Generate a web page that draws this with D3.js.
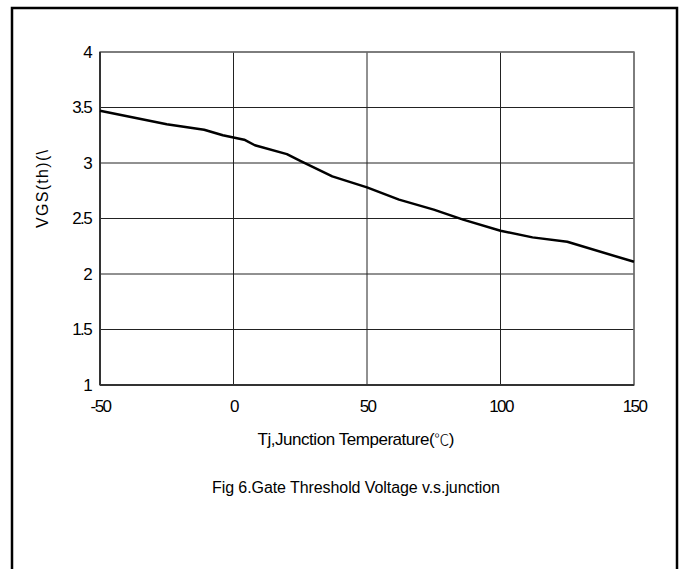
<!DOCTYPE html>
<html>
<head>
  <style>
    body { margin: 0; background: #fff; }
    svg text { font-family: "Liberation Sans", Arial, sans-serif; fill: #000; }
  </style>
  <title>Gate Threshold Voltage v.s. junction</title>
</head>
<body>
  <script src="https://cdn.jsdelivr.net/npm/d3@7"></script>
  <script>
    // data
    var temps = [-50, -25, -11, -4, 4, 8, 20, 25, 37, 50, 62, 75, 86, 100, 112, 125, 150];
    var vgs   = [3.47, 3.35, 3.30, 3.25, 3.21, 3.16, 3.08, 3.02, 2.88, 2.78, 2.67, 2.58, 2.49, 2.39, 2.33, 2.29, 2.11];
    var xTicks = [-50, 0, 50, 100, 150];
    var yTicks = [1, 1.5, 2, 2.5, 3, 3.5, 4];

    var W = 685, H = 569;
    var plot = {left: 100, top: 52, right: 634, bottom: 385};

    var svg = d3.select("body").append("svg")
      .attr("width", W)
      .attr("height", H);

    // outer frame
    svg.append("rect")
      .attr("x", 12).attr("y", 8)
      .attr("width", 665).attr("height", 580)
      .attr("fill", "none")
      .attr("stroke", "#000")
      .attr("stroke-width", 2.5);

    var x = d3.scaleLinear().domain([-50, 150]).range([plot.left, plot.right]);
    var y = d3.scaleLinear().domain([1, 4]).range([plot.bottom, plot.top]);

    // grid
    svg.append("g").selectAll("line").data(yTicks).enter().append("line")
      .attr("x1", plot.left).attr("x2", plot.right)
      .attr("y1", d => y(d)).attr("y2", d => y(d))
      .attr("stroke", "#222").attr("stroke-width", 1);

    svg.append("g").selectAll("line").data(xTicks).enter().append("line")
      .attr("y1", plot.top).attr("y2", plot.bottom)
      .attr("x1", d => x(d)).attr("x2", d => x(d))
      .attr("stroke", "#222").attr("stroke-width", 1);

    // plot border
    svg.append("rect")
      .attr("x", plot.left).attr("y", plot.top)
      .attr("width", plot.right - plot.left).attr("height", plot.bottom - plot.top)
      .attr("fill", "none").attr("stroke", "#777").attr("stroke-width", 1.5);
    svg.append("line")
      .attr("x1", plot.left).attr("x2", plot.left)
      .attr("y1", plot.top).attr("y2", plot.bottom)
      .attr("stroke", "#333").attr("stroke-width", 2);
    svg.append("line")
      .attr("x1", plot.left).attr("x2", plot.right)
      .attr("y1", plot.bottom).attr("y2", plot.bottom)
      .attr("stroke", "#333").attr("stroke-width", 2);

    // axes labels via d3 axis, then strip the domain/ticks
    var yAxis = d3.axisLeft(y).tickValues(yTicks).tickSize(0).tickPadding(9)
      .tickFormat(d => String(d));
    var gy = svg.append("g").attr("transform", "translate(" + plot.left + ",0)").call(yAxis);
    gy.select(".domain").remove();
    gy.selectAll("text")
      .attr("font-size", "17px")
      .style("letter-spacing", "-1.6px")
      .attr("font-family", "Liberation Sans, Arial, sans-serif");

    var xAxis = d3.axisBottom(x).tickValues(xTicks).tickSize(0).tickPadding(15)
      .tickFormat(d => String(d));
    var gx = svg.append("g").attr("transform", "translate(0," + plot.bottom + ")").call(xAxis);
    gx.select(".domain").remove();
    gx.selectAll("text")
      .attr("font-size", "17px")
      .style("letter-spacing", "-1.6px")
      .attr("font-family", "Liberation Sans, Arial, sans-serif");

    // curve
    var pts = temps.map((t, i) => [t, vgs[i]]);
    svg.append("path")
      .datum(pts)
      .attr("fill", "none")
      .attr("stroke", "#000")
      .attr("stroke-width", 2.5)
      .attr("stroke-linejoin", "round")
      .attr("d", d3.line().x(d => x(d[0])).y(d => y(d[1])));

    // axis titles
    svg.append("text")
      .attr("transform", "translate(48,189) rotate(-90)")
      .attr("text-anchor", "middle")
      .attr("font-size", "16px")
      .attr("textLength", 78)
      .attr("lengthAdjust", "spacing")
      .text("VGS(th)(\\");

    var xl = svg.append("text")
      .attr("x", 356).attr("y", 445)
      .attr("text-anchor", "middle")
      .attr("font-size", "17px")
      .attr("textLength", 197)
      .attr("lengthAdjust", "spacing");
    xl.append("tspan").text("Tj,Junction Temperature(");
    xl.append("tspan")
      .attr("font-family", "Noto Sans CJK SC")
      .attr("font-weight", 300)
      .attr("font-size", "15px")
      .text("℃");
    xl.append("tspan").text(")");

    svg.append("text")
      .attr("x", 356).attr("y", 493)
      .attr("text-anchor", "middle")
      .attr("font-size", "16px")
      .attr("textLength", 288)
      .attr("lengthAdjust", "spacing")
      .text("Fig 6.Gate Threshold Voltage v.s.junction");
  </script>
</body>
</html>
